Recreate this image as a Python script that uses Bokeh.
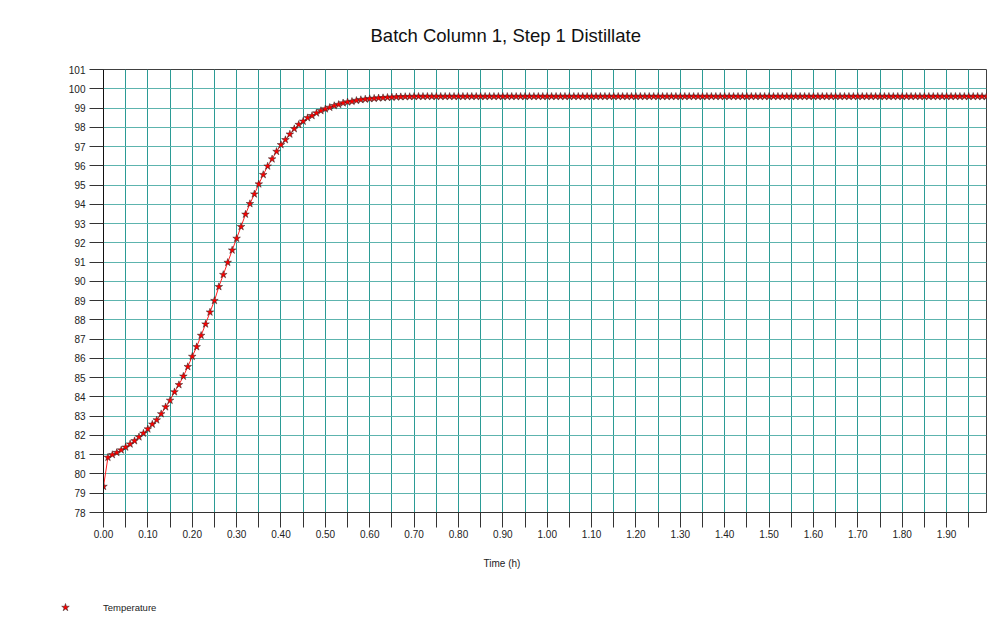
from bokeh.plotting import figure
from bokeh.models import (Range1d, FixedTicker, Legend, LegendItem, Title,
                          ColumnDataSource, PrintfTickFormatter)
from bokeh.embed import file_html
from bokeh.resources import INLINE

# ---------------- data ----------------
title_text = "Batch Column 1, Step 1 Distillate"
x_axis_title = "Time (h)"
series_name = "Temperature"
time_step_h = 0.01

temperature = [
    79.35, 80.86, 81.00, 81.11, 81.24, 81.39, 81.55, 81.72, 81.92, 82.11,
    82.33, 82.58, 82.80, 83.12, 83.48, 83.82, 84.26, 84.63, 85.07, 85.57,
    86.10, 86.60, 87.19, 87.78, 88.40, 89.00, 89.72, 90.35, 90.98, 91.62,
    92.23, 92.84, 93.48, 94.03, 94.53, 95.05, 95.54, 95.98, 96.35, 96.74,
    97.09, 97.35, 97.64, 97.92, 98.14, 98.31, 98.49, 98.60, 98.74, 98.86,
    98.95, 99.03, 99.12, 99.18, 99.26, 99.31, 99.34, 99.39, 99.43, 99.46,
    99.48, 99.50, 99.52, 99.53, 99.55, 99.56, 99.57, 99.58, 99.59, 99.59,
    99.60, 99.60, 99.60, 99.60, 99.60, 99.60, 99.60, 99.60, 99.60, 99.60,
    99.60, 99.60, 99.60, 99.60, 99.60, 99.60, 99.60, 99.60, 99.60, 99.60,
    99.60, 99.60, 99.60, 99.60, 99.60, 99.60, 99.60, 99.60, 99.60, 99.60,
    99.60, 99.60, 99.60, 99.60, 99.60, 99.60, 99.60, 99.60, 99.60, 99.60,
    99.60, 99.60, 99.60, 99.60, 99.60, 99.60, 99.60, 99.60, 99.60, 99.60,
    99.60, 99.60, 99.60, 99.60, 99.60, 99.60, 99.60, 99.60, 99.60, 99.60,
    99.60, 99.60, 99.60, 99.60, 99.60, 99.60, 99.60, 99.60, 99.60, 99.60,
    99.60, 99.60, 99.60, 99.60, 99.60, 99.60, 99.60, 99.60, 99.60, 99.60,
    99.60, 99.60, 99.60, 99.60, 99.60, 99.60, 99.60, 99.60, 99.60, 99.60,
    99.60, 99.60, 99.60, 99.60, 99.60, 99.60, 99.60, 99.60, 99.60, 99.60,
    99.60, 99.60, 99.60, 99.60, 99.60, 99.60, 99.60, 99.60, 99.60, 99.60,
    99.60, 99.60, 99.60, 99.60, 99.60, 99.60, 99.60, 99.60, 99.60, 99.60,
    99.60, 99.60, 99.60, 99.60, 99.60, 99.60, 99.60, 99.60, 99.60, 99.60,
]
time_h = [round(i * time_step_h, 2) for i in range(len(temperature))]

x_labelled_ticks = [round(i * 0.10, 2) for i in range(20)]        # 0.00 .. 1.90
x_half_ticks = [round(0.05 + i * 0.10, 2) for i in range(20)]     # 0.05 .. 1.95
y_ticks = list(range(78, 102))                                    # 78 .. 101
x_start, x_end = 0.0, 1.99
y_start, y_end = 78, 101

# ---------------- styles ----------------
FONT = "Liberation Sans"
GRID_V = "#2b9b95"
GRID_H = "#5db4ae"
DARK = "#333333"
MARKER = dict(marker="star", size=8, fill_color="#ff0000",
              line_color="#262626", line_width=0.5)

source = ColumnDataSource(dict(t=time_h, temp=temperature))

p = figure(width=995, height=595, output_backend="svg", toolbar_location=None,
           x_range=Range1d(x_start, x_end), y_range=Range1d(y_start, y_end),
           min_border_left=103, min_border_right=9, min_border_top=69,
           min_border_bottom=83)
p.background_fill_color = "white"
p.border_fill_color = "white"
p.outline_line_color = "#404040"
p.outline_line_width = 1

# title (shifted left so it is centred on the canvas, as in the reference)
p.title = Title(text=title_text, align="left", offset=267,
                vertical_align="middle", standoff=45, text_font=FONT,
                text_font_size="18.5px", text_font_style="normal",
                text_color="#111111")

# axes
p.xaxis.ticker = FixedTicker(ticks=x_labelled_ticks, minor_ticks=x_half_ticks)
p.xaxis.formatter = PrintfTickFormatter(format="%.2f")
p.xaxis.major_tick_out = 15
p.xaxis.major_tick_in = 0
p.xaxis.minor_tick_out = 15
p.xaxis.minor_tick_in = 0
p.xaxis.major_tick_line_color = DARK
p.xaxis.minor_tick_line_color = DARK
p.xaxis.axis_line_color = DARK
p.xaxis.major_label_standoff = 2
p.xaxis.major_label_text_font = FONT
p.xaxis.major_label_text_font_size = "10px"
p.xaxis.major_label_text_color = "#222222"

p.yaxis.ticker = FixedTicker(ticks=y_ticks)
p.yaxis.major_tick_out = 14
p.yaxis.major_tick_in = 0
p.yaxis.minor_tick_line_color = None
p.yaxis.major_tick_line_color = DARK
p.yaxis.axis_line_color = "#111111"
p.yaxis.major_label_standoff = 4
p.yaxis.major_label_text_font = FONT
p.yaxis.major_label_text_font_size = "10px"
p.yaxis.major_label_text_color = "#222222"

# x-axis title as a below-panel title so it can be offset horizontally
p.add_layout(Title(text=x_axis_title, align="left", offset=380,
                   vertical_align="middle", standoff=32, text_font=FONT,
                   text_font_size="10px", text_font_style="normal",
                   text_color="#222222"), "below")

# grids
p.xgrid.ticker = FixedTicker(ticks=sorted(x_labelled_ticks + x_half_ticks))
p.xgrid.grid_line_color = GRID_V
p.xgrid.grid_line_width = 1
p.ygrid.ticker = FixedTicker(ticks=y_ticks)
p.ygrid.grid_line_color = GRID_H
p.ygrid.grid_line_width = 1.2

# data
line_r = p.line("t", "temp", source=source, line_color="#ff2020", line_width=1)
pts = p.scatter("t", "temp", source=source, **MARKER)

# ---------------- legend strip below the chart (separate root) ----------------
q = figure(width=995, height=45, output_backend="svg", toolbar_location=None,
           x_range=Range1d(0, 1), y_range=Range1d(0, 1),
           x_axis_type=None, y_axis_type=None,
           min_border_left=0, min_border_right=0, min_border_top=0,
           min_border_bottom=0)
q.grid.visible = False
q.outline_line_color = None
q.background_fill_color = "white"
q.border_fill_color = "white"
# legend key: shares the series' first sample, which lies outside this strip's
# ranges, so only its legend swatch is drawn
legend_key = q.scatter(x=time_h[:1], y=temperature[:1], **MARKER)

legend = Legend(items=[LegendItem(label=series_name, renderers=[legend_key])],
                location=(55, 23), orientation="vertical",
                padding=0, margin=0, spacing=0,
                glyph_width=20, glyph_height=20, label_standoff=28,
                label_text_font=FONT, label_text_font_size="9.5px",
                label_text_color="#222222",
                border_line_color=None, background_fill_alpha=0)
q.add_layout(legend)

open("out.html", "w").write(file_html([p, q], INLINE))
